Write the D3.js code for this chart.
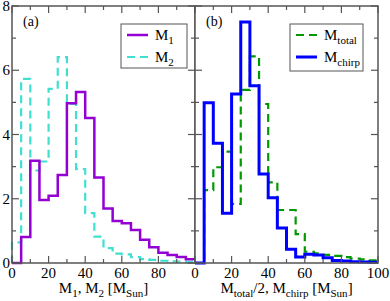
<!DOCTYPE html>
<html>
<head>
<meta charset="utf-8">
<script src="https://cdn.jsdelivr.net/npm/d3@7"></script>
<style>
  body { margin: 0; background: #fff; }
  text { font-family: "Liberation Serif", "DejaVu Serif", serif; }
</style>
</head>
<body>
<div id="chart"></div>
<script>
// bin edges (5 M_sun wide)
var binStart = [0,5,10,15,20,25,30,35,40,45,50,55,60,65,70,75,80,85,90,95];

// panel (a)
var m1 = [0, 0.81, 3.18, 1.96, 2.09, 2.74, 4.97, 5.32, 4.51, 2.66, 1.70, 1.31, 1.24, 1.03, 0.72, 0.49, 0.32, 0.25, 0.19, 0.12];
var m2 = [0.64, 5.73, 2.88, 3.16, 5.42, 6.41, 4.95, 2.92, 1.55, 0.82, 0.46, 0.29, 0.27, 0.18, 0.12, 0.10, 0.07, 0.05, 0.04, 0.03];

// panel (b)
var mtotal = [0, 2.27, 2.98, 3.47, 1.84, 5.39, 6.43, 4.95, 2.51, 1.65, 1.65, 0.90, 0.35, 0.30, 0.25, 0.22, 0.18, 0.14, 0.11, 0.08];
var mchirp = [0, 4.99, 3.73, 1.55, 5.26, 7.50, 5.52, 2.77, 2.03, 1.09, 0.43, 0.19, 0.27, 0.25, 0.16, 0.08, 0.06, 0.04, 0.03, 0.02];

var xTicksA = [0, 20, 40, 60, 80];
var xTicksB = [0, 20, 40, 60, 80, 100];
var yTicks = [0, 2, 4, 6, 8];

var svgWidth = 390, svgHeight = 301;
var plotTop = 6, plotBottom = 263;

var svg = d3.select("#chart").append("svg")
  .attr("width", svgWidth)
  .attr("height", svgHeight);

var y = d3.scaleLinear().domain([0, 8]).range([plotBottom, plotTop]);

function drawPanel(x0, x1, xTicks, showYLabels, series, legend, tag, title) {
  var x = d3.scaleLinear().domain([0, 100]).range([x0, x1]);
  var g = svg.append("g");

  g.append("rect")
    .attr("x", x0).attr("y", plotTop)
    .attr("width", x1 - x0).attr("height", plotBottom - plotTop)
    .attr("fill", "#fff");

  // histograms
  var line = d3.line()
    .x(d => x(d[0]))
    .y(d => y(d[1]))
    .curve(d3.curveStepAfter);

  series.forEach(function(s) {
    var pts = [[0, 0]];
    binStart.forEach((b, i) => pts.push([b, s.values[i]]));
    pts.push([100, s.values[s.values.length - 1]]);
    g.append("path")
      .attr("d", line(pts))
      .attr("fill", "none")
      .attr("stroke", s.color)
      .attr("stroke-width", s.width)
      .attr("stroke-dasharray", s.dash || null);
  });

  // ticks (inward, all four sides)
  var ax = "#555";
  var xMinor = d3.range(0, 101, 10);
  var yMinor = d3.range(0, 9, 1);
  xMinor.forEach(function(v) {
    var len = v % 20 === 0 ? 7 : 4;
    g.append("line").attr("x1", x(v)).attr("x2", x(v))
      .attr("y1", plotBottom).attr("y2", plotBottom - len)
      .attr("stroke", ax).attr("stroke-width", 1.2);
    g.append("line").attr("x1", x(v)).attr("x2", x(v))
      .attr("y1", plotTop).attr("y2", plotTop + len)
      .attr("stroke", ax).attr("stroke-width", 1.2);
  });
  yMinor.forEach(function(v) {
    var len = v % 2 === 0 ? 7 : 4;
    g.append("line").attr("x1", x0).attr("x2", x0 + len)
      .attr("y1", y(v)).attr("y2", y(v))
      .attr("stroke", ax).attr("stroke-width", 1.2);
    g.append("line").attr("x1", x1).attr("x2", x1 - len)
      .attr("y1", y(v)).attr("y2", y(v))
      .attr("stroke", ax).attr("stroke-width", 1.2);
  });

  // frame
  g.append("rect")
    .attr("x", x0).attr("y", plotTop)
    .attr("width", x1 - x0).attr("height", plotBottom - plotTop)
    .attr("fill", "none")
    .attr("stroke", ax).attr("stroke-width", 1.5);

  // tick labels
  g.selectAll(".xl").data(xTicks).enter().append("text")
    .attr("x", d => x(d)).attr("y", plotBottom + 15)
    .attr("text-anchor", "middle")
    .attr("font-size", 15)
    .text(d => d);

  if (showYLabels) {
    g.selectAll(".yl").data(yTicks).enter().append("text")
      .attr("x", x0 - 2).attr("y", d => y(d) + 5)
      .attr("text-anchor", "end")
      .attr("font-size", 15)
      .text(d => d);
  }

  // panel tag
  g.append("text").attr("x", x0 + 11).attr("y", plotTop + 20)
    .attr("font-size", 14).text(tag);

  // legend
  var lb = legend.box;
  g.append("rect").attr("x", lb[0]).attr("y", lb[1])
    .attr("width", lb[2]).attr("height", lb[3])
    .attr("fill", "#fff").attr("stroke", "#555").attr("stroke-width", 1);
  legend.items.forEach(function(it, i) {
    var ly = lb[1] + 11 + i * 22;
    g.append("line")
      .attr("x1", lb[0] + 6).attr("x2", lb[0] + 27)
      .attr("y1", ly).attr("y2", ly)
      .attr("stroke", it.color).attr("stroke-width", it.width)
      .attr("stroke-dasharray", it.dash || null);
    var t = g.append("text").attr("x", lb[0] + 34).attr("y", ly + 5)
      .attr("font-size", 15);
    t.append("tspan").text("M");
    t.append("tspan").attr("dy", 4).attr("font-size", 11).text(it.sub);
  });

  // axis title
  var tt = g.append("text")
    .attr("x", (x0 + x1) / 2).attr("y", plotBottom + 30)
    .attr("text-anchor", "middle")
    .attr("font-size", 15);
  title.forEach(function(p) {
    var sp = tt.append("tspan").text(p.t);
    if (p.sub) sp.attr("font-size", 11).attr("dy", 4);
    if (p.up) sp.attr("dy", -4);
  });
}

drawPanel(12, 195, xTicksA, true,
  [
    { values: m2, color: "#40e0d0", width: 2.2, dash: "8,5" },
    { values: m1, color: "#9400d3", width: 2.5 }
  ],
  { box: [121, 24, 66, 44], items: [
      { sub: "1", color: "#9400d3", width: 2.5 },
      { sub: "2", color: "#40e0d0", width: 2.2, dash: "8,5" }
  ] },
  "(a)",
  [ { t: "M" }, { t: "1", sub: true }, { t: ", M", up: true }, { t: "2", sub: true },
    { t: " [M", up: true }, { t: "Sun", sub: true }, { t: "]", up: true } ]
);

drawPanel(195, 378, xTicksB, false,
  [
    { values: mtotal, color: "#009900", width: 2.2, dash: "8,5" },
    { values: mchirp, color: "#0000ff", width: 3 }
  ],
  { box: [290, 24, 73, 47], items: [
      { sub: "total", color: "#009900", width: 2.2, dash: "8,5" },
      { sub: "chirp", color: "#0000ff", width: 3 }
  ] },
  "(b)",
  [ { t: "M" }, { t: "total", sub: true }, { t: "/2, M", up: true }, { t: "chirp", sub: true },
    { t: " [M", up: true }, { t: "Sun", sub: true }, { t: "]", up: true } ]
);
</script>
</body>
</html>
